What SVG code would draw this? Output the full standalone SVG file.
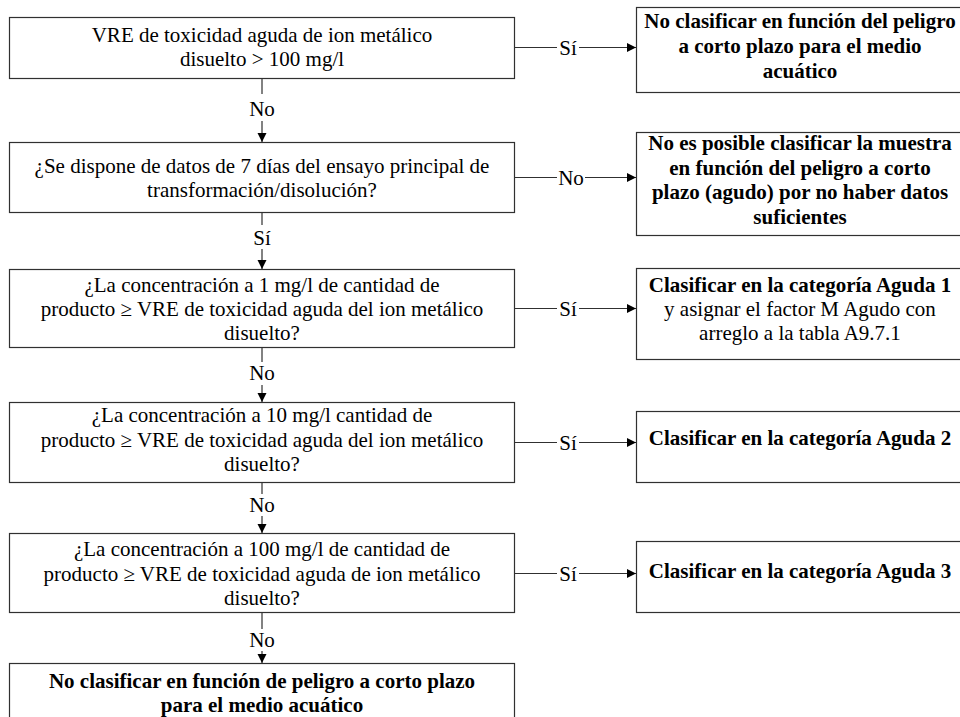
<svg xmlns="http://www.w3.org/2000/svg" width="960" height="717" viewBox="0 0 960 717">
  <style>
    .box { fill: #ffffff; stroke: #303030; stroke-width: 1.2; }
    .t { font-family: "Liberation Serif", "Times New Roman", Times, serif; font-size: 21px; fill: #000; text-anchor: middle; }
    .b { font-weight: bold; }
    .wire { fill: none; stroke: #303030; stroke-width: 1.2; }
  </style>
  <defs>
    <marker id="arrow" markerUnits="userSpaceOnUse" markerWidth="10" markerHeight="10" refX="9" refY="4.5" orient="auto">
      <path d="M0,0 L9,4.5 L0,9 z" fill="#000"/>
    </marker>
  </defs>
  <rect width="960" height="717" fill="#ffffff"/>

  <!-- decision chain (left column) -->
  <g id="q1">
    <rect class="box" x="9.5" y="17.5" width="505" height="61"/>
    <text class="t" x="262" y="42">VRE de toxicidad aguda de ion metálico</text>
    <text class="t" x="262" y="66">disuelto &gt; 100 mg/l</text>
  </g>
  <g id="q2">
    <rect class="box" x="9.5" y="142.5" width="505" height="70"/>
    <text class="t" x="262" y="173">¿Se dispone de datos de 7 días del ensayo principal de</text>
    <text class="t" x="262" y="197">transformación/disolución?</text>
  </g>
  <g id="q3">
    <rect class="box" x="9.5" y="269.5" width="505" height="78"/>
    <text class="t" x="262" y="292">¿La concentración a 1 mg/l de cantidad de</text>
    <text class="t" x="262" y="316">producto ≥ VRE de toxicidad aguda del ion metálico</text>
    <text class="t" x="262" y="340">disuelto?</text>
  </g>
  <g id="q4">
    <rect class="box" x="9.5" y="402.5" width="505" height="80"/>
    <text class="t" x="262" y="422">¿La concentración a 10 mg/l cantidad de</text>
    <text class="t" x="262" y="446.5">producto ≥ VRE de toxicidad aguda del ion metálico</text>
    <text class="t" x="262" y="471">disuelto?</text>
  </g>
  <g id="q5">
    <rect class="box" x="9.5" y="533.5" width="505" height="79"/>
    <text class="t" x="262" y="556">¿La concentración a 100 mg/l de cantidad de</text>
    <text class="t" x="262" y="581">producto ≥ VRE de toxicidad aguda de ion metálico</text>
    <text class="t" x="262" y="605">disuelto?</text>
  </g>
  <g id="end-left">
    <rect class="box" x="9.5" y="663.5" width="505" height="80"/>
    <text class="t b" x="262" y="688">No clasificar en función de peligro a corto plazo</text>
    <text class="t b" x="262" y="712">para el medio acuático</text>
  </g>

  <!-- outcomes (right column) -->
  <g id="r1">
    <rect class="box" x="636.5" y="7.5" width="330" height="85"/>
    <text class="t b" x="800" y="28">No clasificar en función del peligro</text>
    <text class="t b" x="800" y="53">a corto plazo para el medio</text>
    <text class="t b" x="800" y="78">acuático</text>
  </g>
  <g id="r2">
    <rect class="box" x="636.5" y="132.5" width="330" height="103"/>
    <text class="t b" x="800" y="150">No es posible clasificar la muestra</text>
    <text class="t b" x="800" y="174.5">en función del peligro a corto</text>
    <text class="t b" x="800" y="199">plazo (agudo) por no haber datos</text>
    <text class="t b" x="800" y="223.5">suficientes</text>
  </g>
  <g id="r3">
    <rect class="box" x="636.5" y="268.5" width="330" height="91"/>
    <text class="t b" x="800" y="292">Clasificar en la categoría Aguda 1</text>
    <text class="t" x="800" y="316">y asignar el factor M Agudo con</text>
    <text class="t" x="800" y="340">arreglo a la tabla A9.7.1</text>
  </g>
  <g id="r4">
    <rect class="box" x="636.5" y="411.5" width="330" height="71"/>
    <text class="t b" x="800" y="445">Clasificar en la categoría Aguda 2</text>
  </g>
  <g id="r5">
    <rect class="box" x="636.5" y="541.5" width="330" height="71"/>
    <text class="t b" x="800" y="578">Clasificar en la categoría Aguda 3</text>
  </g>

  <!-- connectors -->
  <g id="connectors">
    <!-- downward "No"/"Sí" links -->
    <path class="wire" d="M262,78 V94 M262,121 V142" marker-end="url(#arrow)"/>
    <text class="t" x="262" y="116">No</text>
    <path class="wire" d="M262,212 V225 M262,249 V269" marker-end="url(#arrow)"/>
    <text class="t" x="262" y="245">Sí</text>
    <path class="wire" d="M262,347 V362 M262,385 V402" marker-end="url(#arrow)"/>
    <text class="t" x="262" y="380">No</text>
    <path class="wire" d="M262,482 V494 M262,516 V533" marker-end="url(#arrow)"/>
    <text class="t" x="262" y="512">No</text>
    <path class="wire" d="M262,612 V629 M262,651 V663" marker-end="url(#arrow)"/>
    <text class="t" x="262" y="647">No</text>

    <!-- sideways links to outcomes -->
    <path class="wire" d="M514,47.5 H557 M579,47.5 H636" marker-end="url(#arrow)"/>
    <text class="t" x="568" y="54.5">Sí</text>
    <path class="wire" d="M514,177.5 H557 M585,177.5 H636" marker-end="url(#arrow)"/>
    <text class="t" x="571" y="184.5">No</text>
    <path class="wire" d="M514,308.5 H557 M579,308.5 H636" marker-end="url(#arrow)"/>
    <text class="t" x="568" y="315.5">Sí</text>
    <path class="wire" d="M514,442.5 H557 M579,442.5 H636" marker-end="url(#arrow)"/>
    <text class="t" x="568" y="449.5">Sí</text>
    <path class="wire" d="M514,573.5 H557 M579,573.5 H636" marker-end="url(#arrow)"/>
    <text class="t" x="568" y="580.5">Sí</text>
  </g>
</svg>
